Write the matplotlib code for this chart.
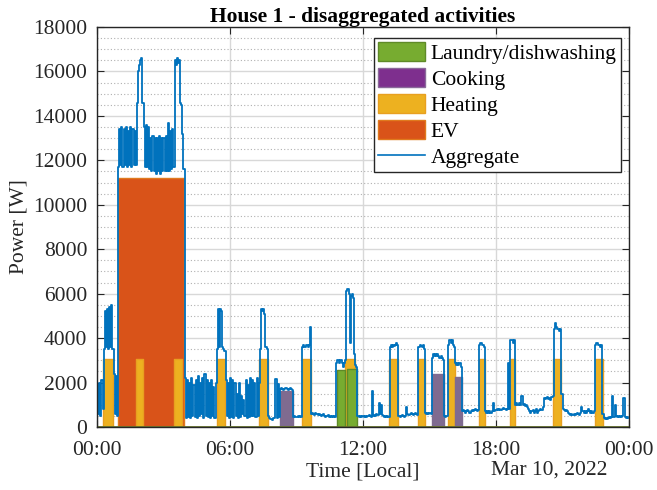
import numpy as np
import matplotlib.pyplot as plt
from matplotlib.patches import Patch
from matplotlib.lines import Line2D
from matplotlib.ticker import MultipleLocator

# aggregate power [W], one sample every 3 minutes, one row per hour
agg_step_h = 0.05
aggregate = [
    1900, 600, 2000, 500, 2100, 800, 3500, 5200, 3600, 5300, 3500, 5400, 3600, 5500, 3500, 2400, 600, 2300, 500, 11700,
    13400, 11800, 13500, 11700, 13400, 11800, 13500, 11700, 13300, 11800, 13500, 11700, 13400, 11800, 13300, 11800, 14600, 16000, 16300, 16500,
    16600, 14600, 13500, 11700, 13600, 11700, 13500, 11600, 13000, 11500, 13100, 11500, 13000, 11400, 13000, 11500, 13100, 11400, 13000, 11500,
    13000, 11500, 13100, 11500, 13700, 11500, 13300, 11600, 13400, 11700, 16500, 16300, 16600, 16400, 16500, 14600, 14500, 13200, 11600, 2200,
    400, 2100, 450, 2000, 400, 2200, 500, 1900, 450, 2100, 400, 2300, 500, 2000, 600, 2200, 400, 2400, 500, 2100,
    450, 2000, 400, 2100, 500, 1800, 400, 2000, 3500, 5300, 3600, 5300, 5200, 3600, 3500, 3400, 2100, 500, 2000, 400,
    2200, 450, 2100, 400, 2000, 500, 1500, 400, 2000, 450, 1400, 600, 1200, 500, 2100, 400, 1900, 450, 2200, 500,
    2100, 500, 2000, 450, 2200, 500, 2000, 3500, 5300, 5200, 5300, 5100, 3600, 3500, 500, 400, 350, 350, 300, 400,
    400, 2150, 400, 1950, 450, 1700, 1750, 1700, 1650, 1700, 1750, 1700, 1650, 1700, 1750, 1700, 1650, 450, 500, 450,
    450, 500, 450, 500, 450, 3600, 3700, 3600, 3600, 3700, 3600, 3700, 4500, 600, 650, 600, 550, 650, 600, 550,
    600, 550, 500, 550, 600, 500, 450, 500, 550, 450, 500, 450, 500, 450, 500, 450, 2900, 3000, 2900, 3000,
    3000, 2900, 2700, 2900, 3000, 6100, 6200, 6000, 3800, 5900, 6000, 5800, 3300, 2800, 2700, 500, 450, 500, 450, 500,
    500, 450, 500, 450, 500, 550, 500, 450, 1600, 500, 550, 500, 600, 550, 1100, 600, 1000, 550, 500, 450,
    500, 450, 500, 450, 3600, 3700, 3600, 3700, 3650, 3700, 3800, 3700, 500, 450, 500, 550, 500, 450, 500, 900,
    600, 550, 600, 650, 600, 550, 600, 650, 600, 550, 3600, 3700, 3650, 3600, 3700, 3500, 650, 600, 650, 600,
    650, 600, 3100, 3300, 3200, 3300, 3200, 3300, 3200, 3100, 3200, 3100, 3000, 500, 450, 500, 500, 3700, 3900, 3800,
    3900, 3700, 3600, 2900, 2800, 2900, 2800, 2900, 2700, 700, 750, 700, 650, 700, 750, 700, 650, 700, 750, 700,
    750, 800, 750, 700, 750, 3700, 3800, 3700, 3700, 3600, 700, 650, 700, 650, 700, 650, 700, 1100, 700, 750,
    750, 800, 750, 800, 750, 800, 850, 800, 800, 750, 800, 2900, 800, 3900, 3900, 3800, 3900, 1000, 1100, 1000,
    1000, 1100, 1000, 1400, 1000, 1050, 950, 1000, 900, 800, 700, 650, 700, 750, 650, 700, 800, 650, 700, 750,
    800, 750, 900, 1300, 1250, 1300, 1350, 1250, 1300, 1200, 1350, 1400, 4400, 4700, 4500, 4400, 4400, 4300, 4400, 1500,
    800, 750, 700, 750, 700, 650, 600, 550, 600, 550, 600, 550, 600, 650, 600, 550, 650, 900, 700, 650,
    700, 650, 700, 800, 700, 650, 700, 650, 700, 3700, 3800, 3800, 3700, 3700, 3600, 3700, 600, 400, 350, 400,
    350, 400, 450, 400, 450, 1400, 450, 1000, 500, 450, 500, 450, 500, 450, 500, 1300, 450, 400, 450, 400,
]

ev_start = [0.95]
ev_end = [3.92]
ev_power = [11200]

heat_start = [0.28, 1.77, 3.48, 5.40, 7.32, 9.23, 11.20, 13.17, 14.50, 15.85, 17.23, 18.64, 20.58, 22.45]
heat_end = [0.73, 2.07, 3.83, 5.78, 7.70, 9.65, 11.64, 13.57, 14.81, 16.15, 17.50, 18.86, 20.92, 22.82]
heat_power = [3050] * 14

cook_start = [8.26, 15.10, 16.15]
cook_end = [8.86, 15.65, 16.45]
cook_power = [1600, 2400, 2250]

laundry_start = [10.82, 11.26]
laundry_end = [11.20, 11.72]
laundry_power = [2550, 2600]

xtick_labels = ['00:00', '06:00', '12:00', '18:00', '00:00']

c_blue = '#0072BD'
c_orange = '#D95319'
c_yellow = '#EDB120'
c_purple = '#7E2F8E'
c_green = '#77AC30'
c_text = '#262626'

plt.rcParams['font.family'] = ['Liberation Serif', 'DejaVu Serif']

fig = plt.figure(figsize=(6.57, 4.9), dpi=100)
ax = fig.add_axes([0.1476, 0.1286, 0.8098, 0.8163])


def blocks(starts, ends, levels, face, edge, z=2):
    for s, e, p in zip(starts, ends, levels):
        ax.fill_between([s, e], 0, p, facecolor=face, edgecolor=edge, linewidth=1.0, zorder=z)


blocks(ev_start, ev_end, ev_power, c_orange, '#E07A1E', z=2)
blocks(heat_start, heat_end, heat_power, c_yellow, '#E8A020', z=3)
blocks(cook_start, cook_end, cook_power, '#7f6b90', '#7f6b90', z=3)
blocks(laundry_start, laundry_end, laundry_power, c_green, '#5f8a28', z=4)

t = np.arange(len(aggregate)) * agg_step_h
ax.step(t, aggregate, where='post', color=c_blue, linewidth=1.3, zorder=5)
ax.axhline(0, color='#6b7a2c', linewidth=2, zorder=6)

ax.set_xlim(0, 24)
ax.set_ylim(0, 18000)
ax.set_xticks([0, 6, 12, 18, 24])
ax.set_xticklabels(xtick_labels)
ax.set_yticks(np.arange(0, 18001, 2000))
ax.yaxis.set_minor_locator(MultipleLocator(500))
ax.tick_params(which='both', direction='in', top=True, right=True, labelsize=15.5, colors=c_text)
ax.tick_params(which='major', length=5)
ax.tick_params(which='minor', length=0)
ax.tick_params(axis='x', pad=10)
ax.tick_params(axis='y', pad=7)
ax.grid(which='major', color='#d8d8d8', linewidth=1)
ax.grid(which='minor', axis='y', color='#b0b0b0', linestyle=(0, (1, 2)), linewidth=0.8)
ax.set_axisbelow(True)
for sp in ax.spines.values():
    sp.set_color(c_text)
    sp.set_linewidth(1)
    sp.set_zorder(10)

ax.set_title('House 1 - disaggregated activities', fontsize=15.5, fontweight='bold', pad=3, color='black')
ax.set_ylabel('Power [W]', fontsize=15.5, color=c_text, labelpad=3)
ax.set_xlabel('Time [Local]', fontsize=15.5, color=c_text)
ax.xaxis.set_label_coords(0.5, -0.088)
fig.text(549 / 657, 1 - 470 / 490, 'Mar 10, 2022', fontsize=15.5, color=c_text, ha='center', va='center')

handles = [
    Patch(facecolor=c_green, edgecolor='#5f8a28', label='Laundry/dishwashing'),
    Patch(facecolor=c_purple, edgecolor='#8a6a9a', label='Cooking'),
    Patch(facecolor=c_yellow, edgecolor='#E8A020', label='Heating'),
    Patch(facecolor=c_orange, edgecolor='#E07A1E', label='EV'),
    Line2D([], [], color=c_blue, linewidth=1.2, label='Aggregate'),
]
leg = ax.legend(handles=handles, loc='upper right', fontsize=15.5, frameon=True, fancybox=False,
                edgecolor=c_text, framealpha=1, borderpad=0.2, labelspacing=0.2, borderaxespad=0,
                handlelength=2.2, handleheight=0.95, handletextpad=0.25, bbox_to_anchor=(0.985, 0.9725))
leg.get_frame().set_linewidth(1)

fig.savefig('out.png', dpi=100)
